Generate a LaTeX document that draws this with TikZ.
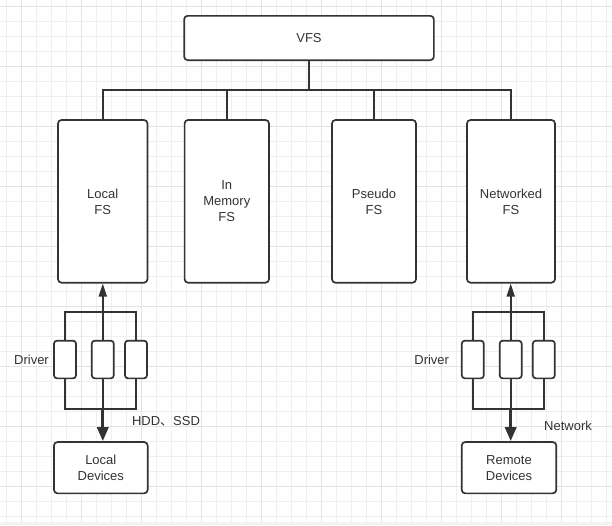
\documentclass[tikz,border=0pt]{standalone}
\usepackage{fontspec}
\setmainfont{Liberation Sans}
\newfontfamily\cjk{Noto Sans CJK SC}
\usetikzlibrary{positioning, arrows.meta}
\definecolor{ink}{HTML}{333333}
\definecolor{gridminor}{HTML}{EFEFEF}
\definecolor{gridmajor}{HTML}{E3E3E3}
\definecolor{band}{HTML}{F2F2F2}

\begin{document}
\begin{tikzpicture}[x=1pt, y=-1pt, line width=1.7pt, color=ink,
  every node/.style={font=\fontsize{13pt}{16pt}\selectfont, text=ink},
  fsbox/.style={draw, fill=white, rounded corners=3.5pt, align=center, inner sep=0pt},
  drvbox/.style={draw, fill=white, rounded corners=3pt, minimum width=22pt, minimum height=37.7pt, inner sep=0pt},
  lbl/.style={inner sep=0pt},
  up/.style={-{Triangle[length=13pt, width=8pt]}},
  down/.style={line width=3.2pt, -{Triangle[length=14pt, width=11pt]}}]

  % background grid
  \useasboundingbox (0,0) rectangle (612,525);
  \fill[white] (0,0) rectangle (612,525);
  \fill[band] (0,521.7) rectangle (612,525);
  \foreach \gx in {6.7,21.7,...,606.7}
    \draw[gridminor, line width=0.8pt] (\gx,0) -- (\gx,521.7);
  \foreach \gy in {6.7,21.7,...,516.7}
    \draw[gridminor, line width=0.8pt] (0,\gy) -- (612,\gy);
  \foreach \gx in {21.7,81.7,...,561.7}
    \draw[gridmajor, line width=0.8pt] (\gx,0) -- (\gx,521.7);
  \foreach \gy in {6.7,66.7,...,486.7}
    \draw[gridmajor, line width=0.8pt] (0,\gy) -- (612,\gy);

  % file systems
  \node[fsbox, minimum width=249.7pt, minimum height=44.3pt] (vfs) at (309,38) {VFS};
  \node[fsbox, minimum width=89.5pt, minimum height=162.7pt] (localfs) at (102.75,201.35) {Local\\FS};
  \node[fsbox, minimum width=84.4pt, minimum height=162.7pt] (memfs) at (226.8,201.35) {In\\Memory\\FS};
  \node[fsbox, minimum width=84pt, minimum height=162.7pt] (pseudofs) at (374,201.35) {Pseudo\\FS};
  \node[fsbox, minimum width=88pt, minimum height=162.7pt] (netfs) at (511,201.35) {Networked\\FS};

  \coordinate (bus) at (309,90);
  \draw (vfs.south) -- (bus);
  \draw (localfs.north) |- (bus) -| (netfs.north);
  \draw (memfs.north) -- (memfs.north |- bus);
  \draw (pseudofs.north) -- (pseudofs.north |- bus);

  % drivers
  \node[drvbox] (drvL1) at (65,359.5) {};
  \node[drvbox] (drvL2) at (102.8,359.5) {};
  \node[drvbox] (drvL3) at (136,359.5) {};
  \node[drvbox] (drvR1) at (472.8,359.5) {};
  \node[drvbox] (drvR2) at (510.7,359.5) {};
  \node[drvbox] (drvR3) at (543.8,359.5) {};

  \coordinate (topL) at (102.8,312.3);
  \coordinate (botL) at (102.8,409.3);
  \coordinate (topR) at (510.7,312.3);
  \coordinate (botR) at (510.7,409.3);

  % devices
  \node[fsbox, minimum width=93.7pt, minimum height=51.3pt] (localdev) at (100.8,467.7) {Local\\Devices};
  \node[fsbox, minimum width=94.6pt, minimum height=51.3pt] (remotedev) at (509,467.7) {Remote\\Devices};

  \draw (drvL1.north) |- (topL) -| (drvL3.north);
  \draw (drvL1.south) |- (botL) -| (drvL3.south);
  \draw (drvL2.south) -- (botL);
  \draw[up] (drvL2.north) -- (drvL2.north |- localfs.south);
  \draw[down] (botL) -- (botL |- localdev.north);

  \draw (drvR1.north) |- (topR) -| (drvR3.north);
  \draw (drvR1.south) |- (botR) -| (drvR3.south);
  \draw (drvR2.south) -- (botR);
  \draw[up] (drvR2.north) -- (drvR2.north |- netfs.south);
  \draw[down] (botR) -- (botR |- remotedev.north);

  % labels
  \node[lbl] (drvlblL) at (31.5,360) {Driver};
  \node[lbl] (hddlbl) at (166,421.7) {HDD{\cjk 、}SSD};
  \node[lbl] (drvlblR) at (431.7,360) {Driver};
  \node[lbl] (netlbl) at (568,426) {Network};
\end{tikzpicture}
\end{document}
